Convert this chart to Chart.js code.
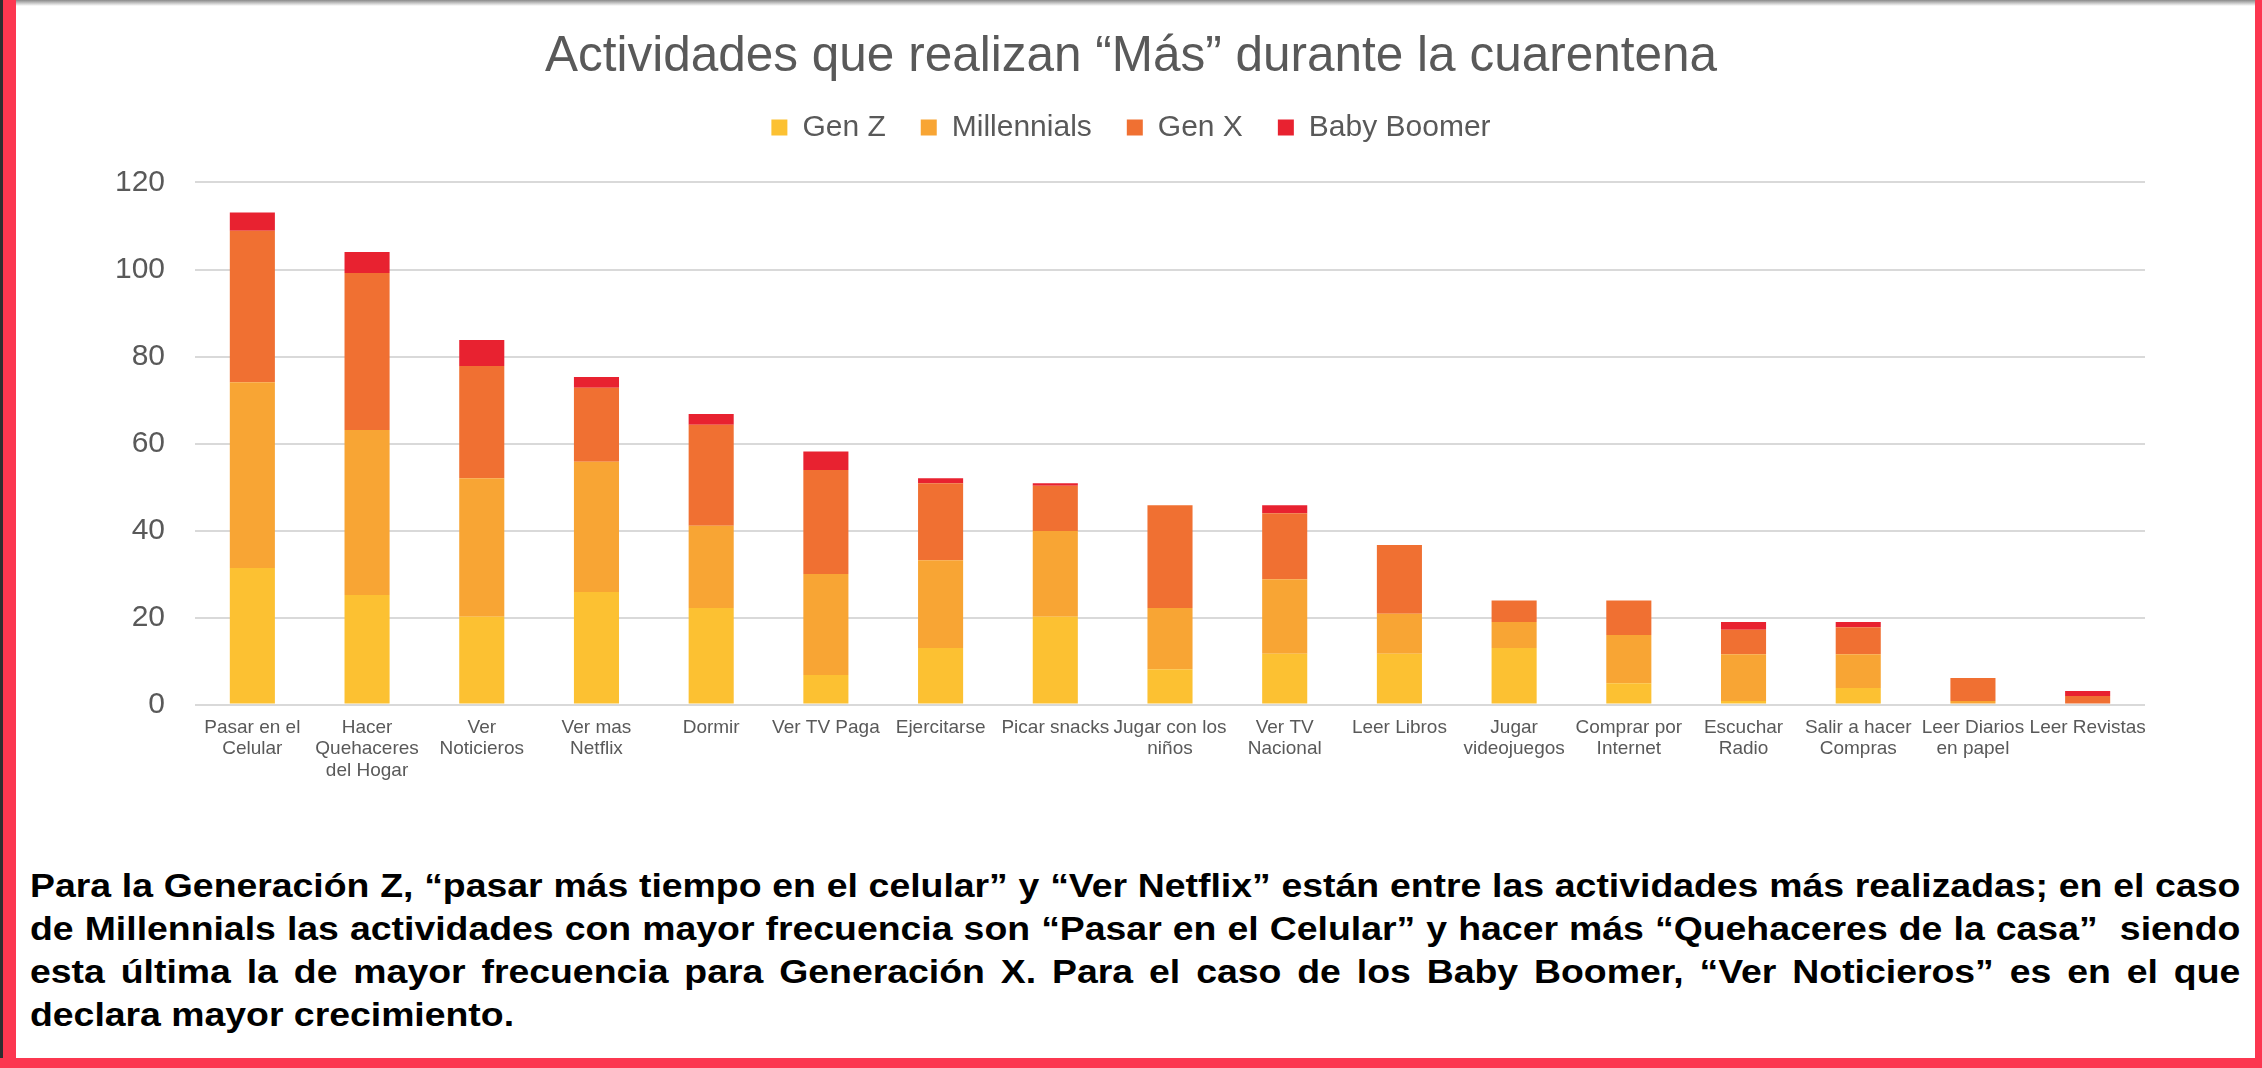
<!DOCTYPE html>
<html lang="es">
<head>
<meta charset="utf-8">
<title>Actividades que realizan “Más” durante la cuarentena</title>
<script src="https://cdn.jsdelivr.net/npm/chart.js@4.4.1/dist/chart.umd.min.js"></script>
<style>
    html, body { margin: 0; padding: 0; background: #fff; overflow: hidden; }
    body { width: 2262px; height: 1068px; position: relative; font-family: "Liberation Sans", Arial, sans-serif; }
    #chart { position: absolute; left: 0; top: 0; }
    .texto { position: absolute; left: 30px; top: 865px; width: 1922px; font-weight: bold; font-size: 32.5px; line-height: 43px; color: #000;
             transform: scaleX(1.15); transform-origin: left top; }
    .texto div { text-align: justify; text-align-last: justify; white-space: nowrap; }
    .texto div.ultima { text-align: left; text-align-last: left; }
    .borde { position: absolute; }
</style>
</head>
<body>
<canvas id="chart" width="2262" height="860"></canvas>

<div class="texto">
    <div>Para la Generación Z, “pasar más tiempo en el celular” y “Ver Netflix” están entre las actividades más realizadas; en el caso</div>
    <div>de Millennials las actividades con mayor frecuencia son “Pasar en el Celular” y hacer más “Quehaceres de la casa”&nbsp; siendo</div>
    <div>esta última la de mayor frecuencia para Generación X. Para el caso de los Baby Boomer, “Ver Noticieros” es en el que</div>
    <div class="ultima">declara mayor crecimiento.</div>
</div>

<!-- marco de la diapositiva -->
<div class="borde" style="left:0;top:0;width:2262px;height:6px;background:linear-gradient(#8a8a8a,#fff);"></div>
<div class="borde" style="left:0;top:0;width:3px;height:1068px;background:#2d2e30;"></div>
<div class="borde" style="left:3px;top:0;width:13px;height:1068px;background:#fc3750;"></div>
<div class="borde" style="left:2255px;top:0;width:7px;height:1068px;background:#fc3750;"></div>
<div class="borde" style="left:0;top:1058px;width:2262px;height:10px;background:#fc3750;"></div>

<script>
const ctx = document.getElementById('chart').getContext('2d');

let actividades = [
    ['Pasar en el', 'Celular'],
    ['Hacer', 'Quehaceres', 'del Hogar'],
    ['Ver', 'Noticieros'],
    ['Ver mas', 'Netflix'],
    'Dormir',
    'Ver TV Paga',
    'Ejercitarse',
    'Picar snacks',
    ['Jugar con los', 'niños'],
    ['Ver TV', 'Nacional'],
    'Leer Libros',
    ['Jugar', 'videojuegos'],
    ['Comprar por', 'Internet'],
    ['Escuchar', 'Radio'],
    ['Salir a hacer', 'Compras'],
    ['Leer Diarios', 'en papel'],
    'Leer Revistas'
];

let genZ        = [31.4, 25.2, 20.2, 25.9, 22.2,  6.8, 13.0, 20.2,  8.1, 11.7, 11.7, 13.0,  4.9,  0.8,  3.8, 0.0, 0.0];
let millennials = [42.7, 37.9, 31.8, 29.9, 18.9, 23.2, 20.2, 19.7, 14.1, 17.1,  9.2,  6.0, 11.1, 10.8,  7.8, 0.8, 0.0];
let genX        = [34.8, 36.1, 25.8, 17.0, 23.2, 23.9, 17.7, 10.4, 23.6, 15.2, 15.8,  4.9,  7.9,  5.6,  6.2, 5.3, 2.0];
let babyBoomer  = [ 4.2,  4.8,  6.0,  2.5,  2.5,  4.3,  1.1,  0.6,  0.0,  1.8,  0.0,  0.0,  0.0,  1.8,  1.2, 0.0, 1.1];

let ejeY = { min: 0, max: 120, paso: 20 };

const gris = '#595959';
const fuente = '"Liberation Sans", Arial, sans-serif';

// hueco extra debajo de la leyenda
const espacioLeyenda = {
    id: 'espacioLeyenda',
    beforeInit(chart) {
        const fitOriginal = chart.legend.fit;
        chart.legend.fit = function () {
            fitOriginal.bind(chart.legend)();
            this.height += 30;
        };
    }
};

function serie(label, data, color) {
    return {
        label: label,
        data: data,
        backgroundColor: color,
        borderWidth: 0,
        barPercentage: 0.393,
        categoryPercentage: 1
    };
}

const chart = new Chart(ctx, {
    type: 'bar',
    data: {
        labels: actividades,
        datasets: [
            serie('Gen Z', genZ, '#fcc132'),
            serie('Millennials', millennials, '#f8a534'),
            serie('Gen X', genX, '#f07032'),
            serie('Baby Boomer', babyBoomer, '#e82230')
        ]
    },
    options: {
        responsive: false,
        animation: false,
        layout: { padding: { left: 117, right: 117, top: 0, bottom: 0 } },
        plugins: {
            title: {
                display: true,
                text: 'Actividades que realizan “Más” durante la cuarentena',
                color: gris,
                font: { family: fuente, size: 49.5, weight: 'normal', lineHeight: 0.818 },
                padding: { top: 37, bottom: 0 }
            },
            legend: {
                position: 'top',
                labels: {
                    color: gris,
                    font: { family: fuente, size: 30 },
                    boxWidth: 16,
                    boxHeight: 16,
                    padding: 35
                }
            },
            tooltip: { enabled: false }
        },
        scales: {
            x: {
                stacked: true,
                grid: { display: false },
                border: { display: false },
                ticks: {
                    color: gris,
                    font: { family: fuente, size: 19, lineHeight: 1.13 },
                    padding: 4,
                    maxRotation: 0,
                    autoSkip: false
                },
                afterFit: (s) => { s.height = 860 - 704.6; }
            },
            y: {
                stacked: true,
                min: ejeY.min,
                max: ejeY.max,
                grid: { color: '#d9d9d9', lineWidth: 2, drawTicks: false },
                border: { display: false },
                ticks: {
                    stepSize: ejeY.paso,
                    color: gris,
                    font: { family: fuente, size: 30 },
                    padding: 30
                },
                afterFit: (s) => { s.width = 78; }
            }
        }
    },
    plugins: [espacioLeyenda]
});
</script>
</body>
</html>
